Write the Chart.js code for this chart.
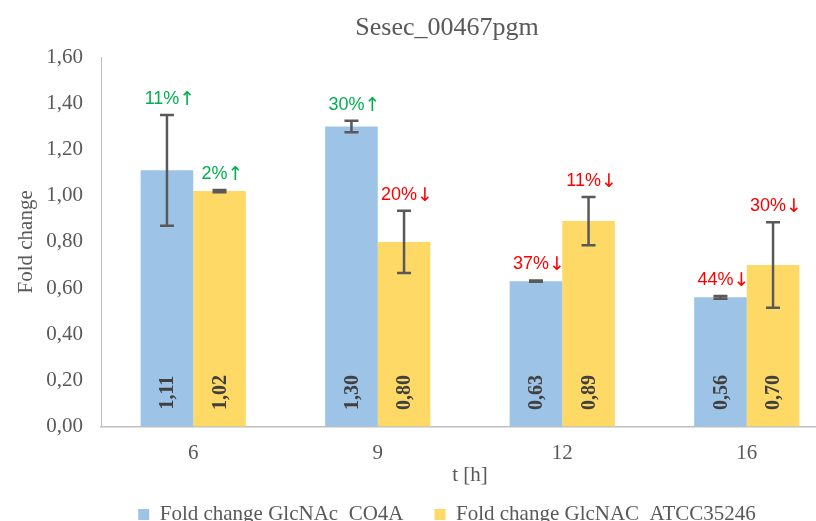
<!DOCTYPE html>
<html>
<head>
<meta charset="utf-8">
<script src="https://cdn.jsdelivr.net/npm/chart.js@4.4.0/dist/chart.umd.min.js"></script>
<style>
  body { margin: 0; background: #fff; }
  #wrap { width: 816px; height: 521px; overflow: hidden; position: relative; }
</style>
</head>
<body>
<div id="wrap">
  <canvas id="myChart" width="894" height="535"></canvas>
</div>
<script>
const hours = ['6', '9', '12', '16'];
const seriesNames = ['Fold change GlcNAc_CO4A', 'Fold change GlcNAC_ATCC35246'];
const valuesCO4A = [1.11, 1.30, 0.63, 0.56];
const valuesATCC = [1.02, 0.80, 0.89, 0.70];
const errCO4A = [0.24, 0.025, 0.003, 0.006];
const errATCC = [0.005, 0.135, 0.105, 0.185];
const pctCO4A = ['11%', '30%', '37%', '44%'];
const pctATCC = ['2%', '20%', '11%', '30%'];
const upCO4A = [true, true, false, false];
const upATCC = [true, false, false, false];

const blue = '#9DC3E6';
const yellow = '#FFD966';
const gray = '#595959';

const serif = '"Liberation Serif", "Times New Roman", serif';
const sans = '"Liberation Sans", Arial, sans-serif';

function comma(v) {
    return v.toFixed(2).replace('.', ',');
}

// error bars, values inside the bars and the % change labels
const extras = {
    id: 'extras',
    afterDatasetsDraw(chart) {
        const ctx = chart.ctx;
        const y = chart.scales.y;
        const errs = [errCO4A, errATCC];
        const pcts = [pctCO4A, pctATCC];
        const ups = [upCO4A, upATCC];
        chart.data.datasets.forEach((ds, i) => {
            const meta = chart.getDatasetMeta(i);
            meta.data.forEach((bar, j) => {
                const v = ds.data[j];
                const e = errs[i][j];
                const top = y.getPixelForValue(v + e);
                const bot = y.getPixelForValue(v - e);

                // value, rotated, near the base
                ctx.save();
                ctx.translate(bar.x, bar.base - 34);
                ctx.rotate(-Math.PI / 2);
                ctx.font = 'bold 20px ' + serif;
                ctx.fillStyle = '#404040';
                ctx.textAlign = 'center';
                ctx.textBaseline = 'middle';
                ctx.fillText(comma(v), 0, 1);
                ctx.restore();

                // error bar
                ctx.save();
                ctx.strokeStyle = gray;
                ctx.lineWidth = 2.5;
                ctx.beginPath();
                ctx.moveTo(bar.x, top);
                ctx.lineTo(bar.x, bot);
                ctx.moveTo(bar.x - 7, top);
                ctx.lineTo(bar.x + 7, top);
                ctx.moveTo(bar.x - 7, bot);
                ctx.lineTo(bar.x + 7, bot);
                ctx.stroke();
                ctx.restore();

                // percent label with arrow
                const txt = pcts[i][j];
                const up = ups[i][j];
                const arrow = up ? '↑' : '↓';
                ctx.save();
                ctx.fillStyle = up ? '#00B050' : '#FF0000';
                ctx.textBaseline = 'alphabetic';
                ctx.textAlign = 'left';
                ctx.font = '18px ' + sans;
                const w1 = ctx.measureText(txt).width;
                ctx.font = '19px "DejaVu Sans", sans-serif';
                const w2 = ctx.measureText(arrow).width;
                const x0 = bar.x + 3 - (w1 + w2) / 2;
                const base = Math.min(top, bar.y) - 11;
                ctx.font = '18px ' + sans;
                ctx.fillText(txt, x0, base);
                ctx.font = '19px "DejaVu Sans", sans-serif';
                ctx.fillText(arrow, x0 + w1, base + 1);
                ctx.restore();
            });
        });
    }
};

new Chart(document.getElementById('myChart'), {
    type: 'bar',
    data: {
        labels: hours,
        datasets: [{
            label: seriesNames[0],
            data: valuesCO4A,
            backgroundColor: blue,
            borderWidth: 0,
            categoryPercentage: 0.57,
            barPercentage: 1.0
        }, {
            label: seriesNames[1],
            data: valuesATCC,
            backgroundColor: yellow,
            borderWidth: 0,
            categoryPercentage: 0.57,
            barPercentage: 1.0
        }]
    },
    options: {
        responsive: false,
        animation: false,
        layout: { padding: 0 },
        scales: {
            x: {
                grid: { display: false, drawTicks: false },
                border: { display: true, color: '#bfbfbf', width: 1.5 },
                ticks: { color: gray, padding: 14, font: { family: serif, size: 21 } },
                title: {
                    display: true,
                    text: 't [h]',
                    color: gray,
                    font: { family: serif, size: 21 },
                    padding: { top: -17, bottom: 6 }
                }
            },
            y: {
                min: 0,
                max: 1.6,
                grid: { display: false, drawTicks: false },
                border: { display: true, color: '#bfbfbf', width: 1 },
                ticks: {
                    stepSize: 0.2,
                    color: gray,
                    padding: 18,
                    font: { family: serif, size: 21 },
                    callback: (v) => comma(v)
                },
                title: {
                    display: true,
                    text: 'Fold change',
                    color: gray,
                    font: { family: serif, size: 21 },
                    padding: { top: 14, bottom: 0 }
                },
                afterFit: (s) => { s.width = 101; }
            },
            y2: {
                position: 'right',
                grid: { display: false },
                border: { display: false },
                ticks: { display: false },
                afterFit: (s) => { s.width = 55; }
            }
        },
        plugins: {
            title: {
                display: true,
                text: 'Sesec_00467pgm',
                color: gray,
                font: { family: serif, size: 26, weight: 'normal' },
                padding: { top: 13, bottom: 13 }
            },
            legend: {
                position: 'bottom',
                labels: {
                    color: gray,
                    boxWidth: 11,
                    boxHeight: 11,
                    padding: 10,
                    font: { family: serif, size: 21 },
                    generateLabels: (chart) => {
                        const items = Chart.defaults.plugins.legend.labels.generateLabels(chart);
                        items[0].text = items[0].text + '    ';
                        return items;
                    }
                }
            },
            tooltip: { enabled: false }
        }
    },
    plugins: [extras]
});
</script>
</body>
</html>
